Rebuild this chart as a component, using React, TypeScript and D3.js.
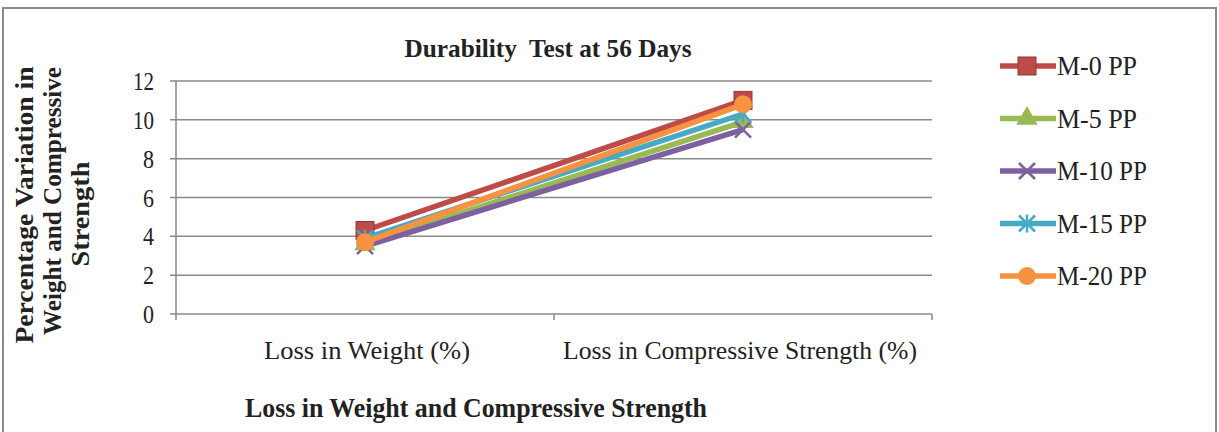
import React from "react";
import * as d3 from "d3";

const categories = ["Loss in Weight (%)", "Loss in Compressive Strength (%)"];
const seriesNames = ["M-0 PP", "M-5 PP", "M-10 PP", "M-15 PP", "M-20 PP"];
const m0 = [4.3, 11.0];
const m5 = [3.6, 9.9];
const m10 = [3.5, 9.5];
const m15 = [3.9, 10.3];
const m20 = [3.7, 10.8];
const yTicks = [0, 2, 4, 6, 8, 10, 12];
const colors = ["#BE4B48", "#98B954", "#7D60A0", "#46AAC5", "#F69240"];
const markers = ["square", "triangle", "x", "star", "circle"];

const seriesValues = [m0, m5, m10, m15, m20];

const W = 1219;
const H = 432;
const plotLeft = 176;
const plotRight = 932;
const plotTop = 81;
const plotBottom = 314;
const font = "'Liberation Serif', 'Times New Roman', serif";
const catWidths = [206, 354];
const legendWidths = [80, 80, 90, 90, 90];

function Marker({ type, x, y, color }: { type: string; x: number; y: number; color: string }) {
  const s = 9;
  if (type === "square") return <rect x={x - s} y={y - s} width={2 * s} height={2 * s} fill={color} stroke="#8c3a37" strokeWidth={1} />;
  if (type === "triangle") {
    const p = d3.symbol(d3.symbolTriangle, 200)();
    return <path d={p || ""} transform={`translate(${x},${y})`} fill={color} />;
  }
  if (type === "x")
    return (
      <g stroke={color} strokeWidth={2.5}>
        <line x1={x - 8} y1={y - 8} x2={x + 8} y2={y + 8} />
        <line x1={x - 8} y1={y + 8} x2={x + 8} y2={y - 8} />
      </g>
    );
  if (type === "star")
    return (
      <g stroke={color} strokeWidth={2.5}>
        <line x1={x - 8} y1={y - 8} x2={x + 8} y2={y + 8} />
        <line x1={x - 8} y1={y + 8} x2={x + 8} y2={y - 8} />
        <line x1={x} y1={y - 9} x2={x} y2={y + 9} />
      </g>
    );
  return <circle cx={x} cy={y} r={9} fill={color} />;
}

export default function App() {
  const x = d3.scaleBand().domain(categories).range([plotLeft, plotRight]);
  const y = d3.scaleLinear().domain([0, 12]).range([plotBottom, plotTop]);
  const cx = (i: number) => (x(categories[i]) as number) + x.bandwidth() / 2;
  const line = d3
    .line<number>()
    .x((_, i) => cx(i))
    .y((d) => y(d));

  return (
    <svg width={W} height={H} style={{ position: "absolute", left: 0, top: 0 }}>
      <rect x={0} y={0} width={W} height={H} fill="#fff" />
      <rect x={3} y={8} width={1213} height={440} fill="none" stroke="#8a8a8a" strokeWidth={2} />
      {yTicks.map((t) => (
        <line key={t} x1={plotLeft - 6} x2={plotRight} y1={y(t)} y2={y(t)} stroke="#8a8a8a" strokeWidth={1.5} />
      ))}
      <line x1={plotLeft} x2={plotLeft} y1={plotTop} y2={plotBottom} stroke="#8a8a8a" strokeWidth={1.5} />
      {[plotLeft, plotLeft + x.bandwidth(), plotRight].map((v, i) => (
        <line key={i} x1={v} x2={v} y1={plotBottom} y2={plotBottom + 6} stroke="#8a8a8a" strokeWidth={1.5} />
      ))}
      {yTicks.map((t) => (
        <text
          key={t}
          x={154}
          y={y(t)}
          dy="0.35em"
          textAnchor="end"
          fontFamily={font}
          fontSize={26}
          fill="#222"
          textLength={t >= 10 ? 21 : 11}
          lengthAdjust="spacingAndGlyphs"
        >
          {t}
        </text>
      ))}
      {categories.map((c, i) => (
        <text
          key={c}
          x={cx(i) + (i === 0 ? 2 : -3)}
          y={359}
          textAnchor="middle"
          fontFamily={font}
          fontSize={25}
          fill="#222"
          textLength={catWidths[i]}
          lengthAdjust="spacingAndGlyphs"
        >
          {c}
        </text>
      ))}
      {seriesValues.map((vals, si) => (
        <g key={si}>
          <path d={line(vals) || ""} fill="none" stroke={colors[si]} strokeWidth={5.5} />
          {vals.map((v, i) => (
            <Marker key={i} type={markers[si]} x={cx(i)} y={y(v)} color={colors[si]} />
          ))}
        </g>
      ))}
      <text
        x={548}
        y={57}
        textAnchor="middle"
        fontFamily={font}
        fontWeight="bold"
        fontSize={25}
        fill="#222"
        style={{ whiteSpace: "pre" }}
        textLength={287}
        lengthAdjust="spacingAndGlyphs"
      >
        Durability  Test at 56 Days
      </text>
      <text
        x={476}
        y={417}
        textAnchor="middle"
        fontFamily={font}
        fontWeight="bold"
        fontSize={27}
        fill="#222"
        textLength={462}
        lengthAdjust="spacingAndGlyphs"
      >
        Loss in Weight and Compressive Strength
      </text>
      <g transform="translate(0,203) rotate(-90)" fontFamily={font} fontWeight="bold" fontSize={25} fill="#222" textAnchor="middle">
        <text x={-2} y={33} textLength={277} lengthAdjust="spacingAndGlyphs">Percentage Variation in</text>
        <text x={2} y={61} textLength={268} lengthAdjust="spacingAndGlyphs">Weight and Compressive</text>
        <text x={-11} y={89} textLength={105} lengthAdjust="spacingAndGlyphs">Strength</text>
      </g>
      {seriesNames.map((n, i) => {
        const ly = 66 + i * 52.5;
        return (
          <g key={n}>
            <line x1={1000} x2={1056} y1={ly} y2={ly} stroke={colors[i]} strokeWidth={5.5} />
            <Marker type={markers[i]} x={1027} y={ly} color={colors[i]} />
            <text
              x={1057}
              y={ly}
              dy="0.35em"
              fontFamily={font}
              fontSize={27}
              fill="#222"
              textLength={legendWidths[i]}
              lengthAdjust="spacingAndGlyphs"
            >
              {n}
            </text>
          </g>
        );
      })}
    </svg>
  );
}
